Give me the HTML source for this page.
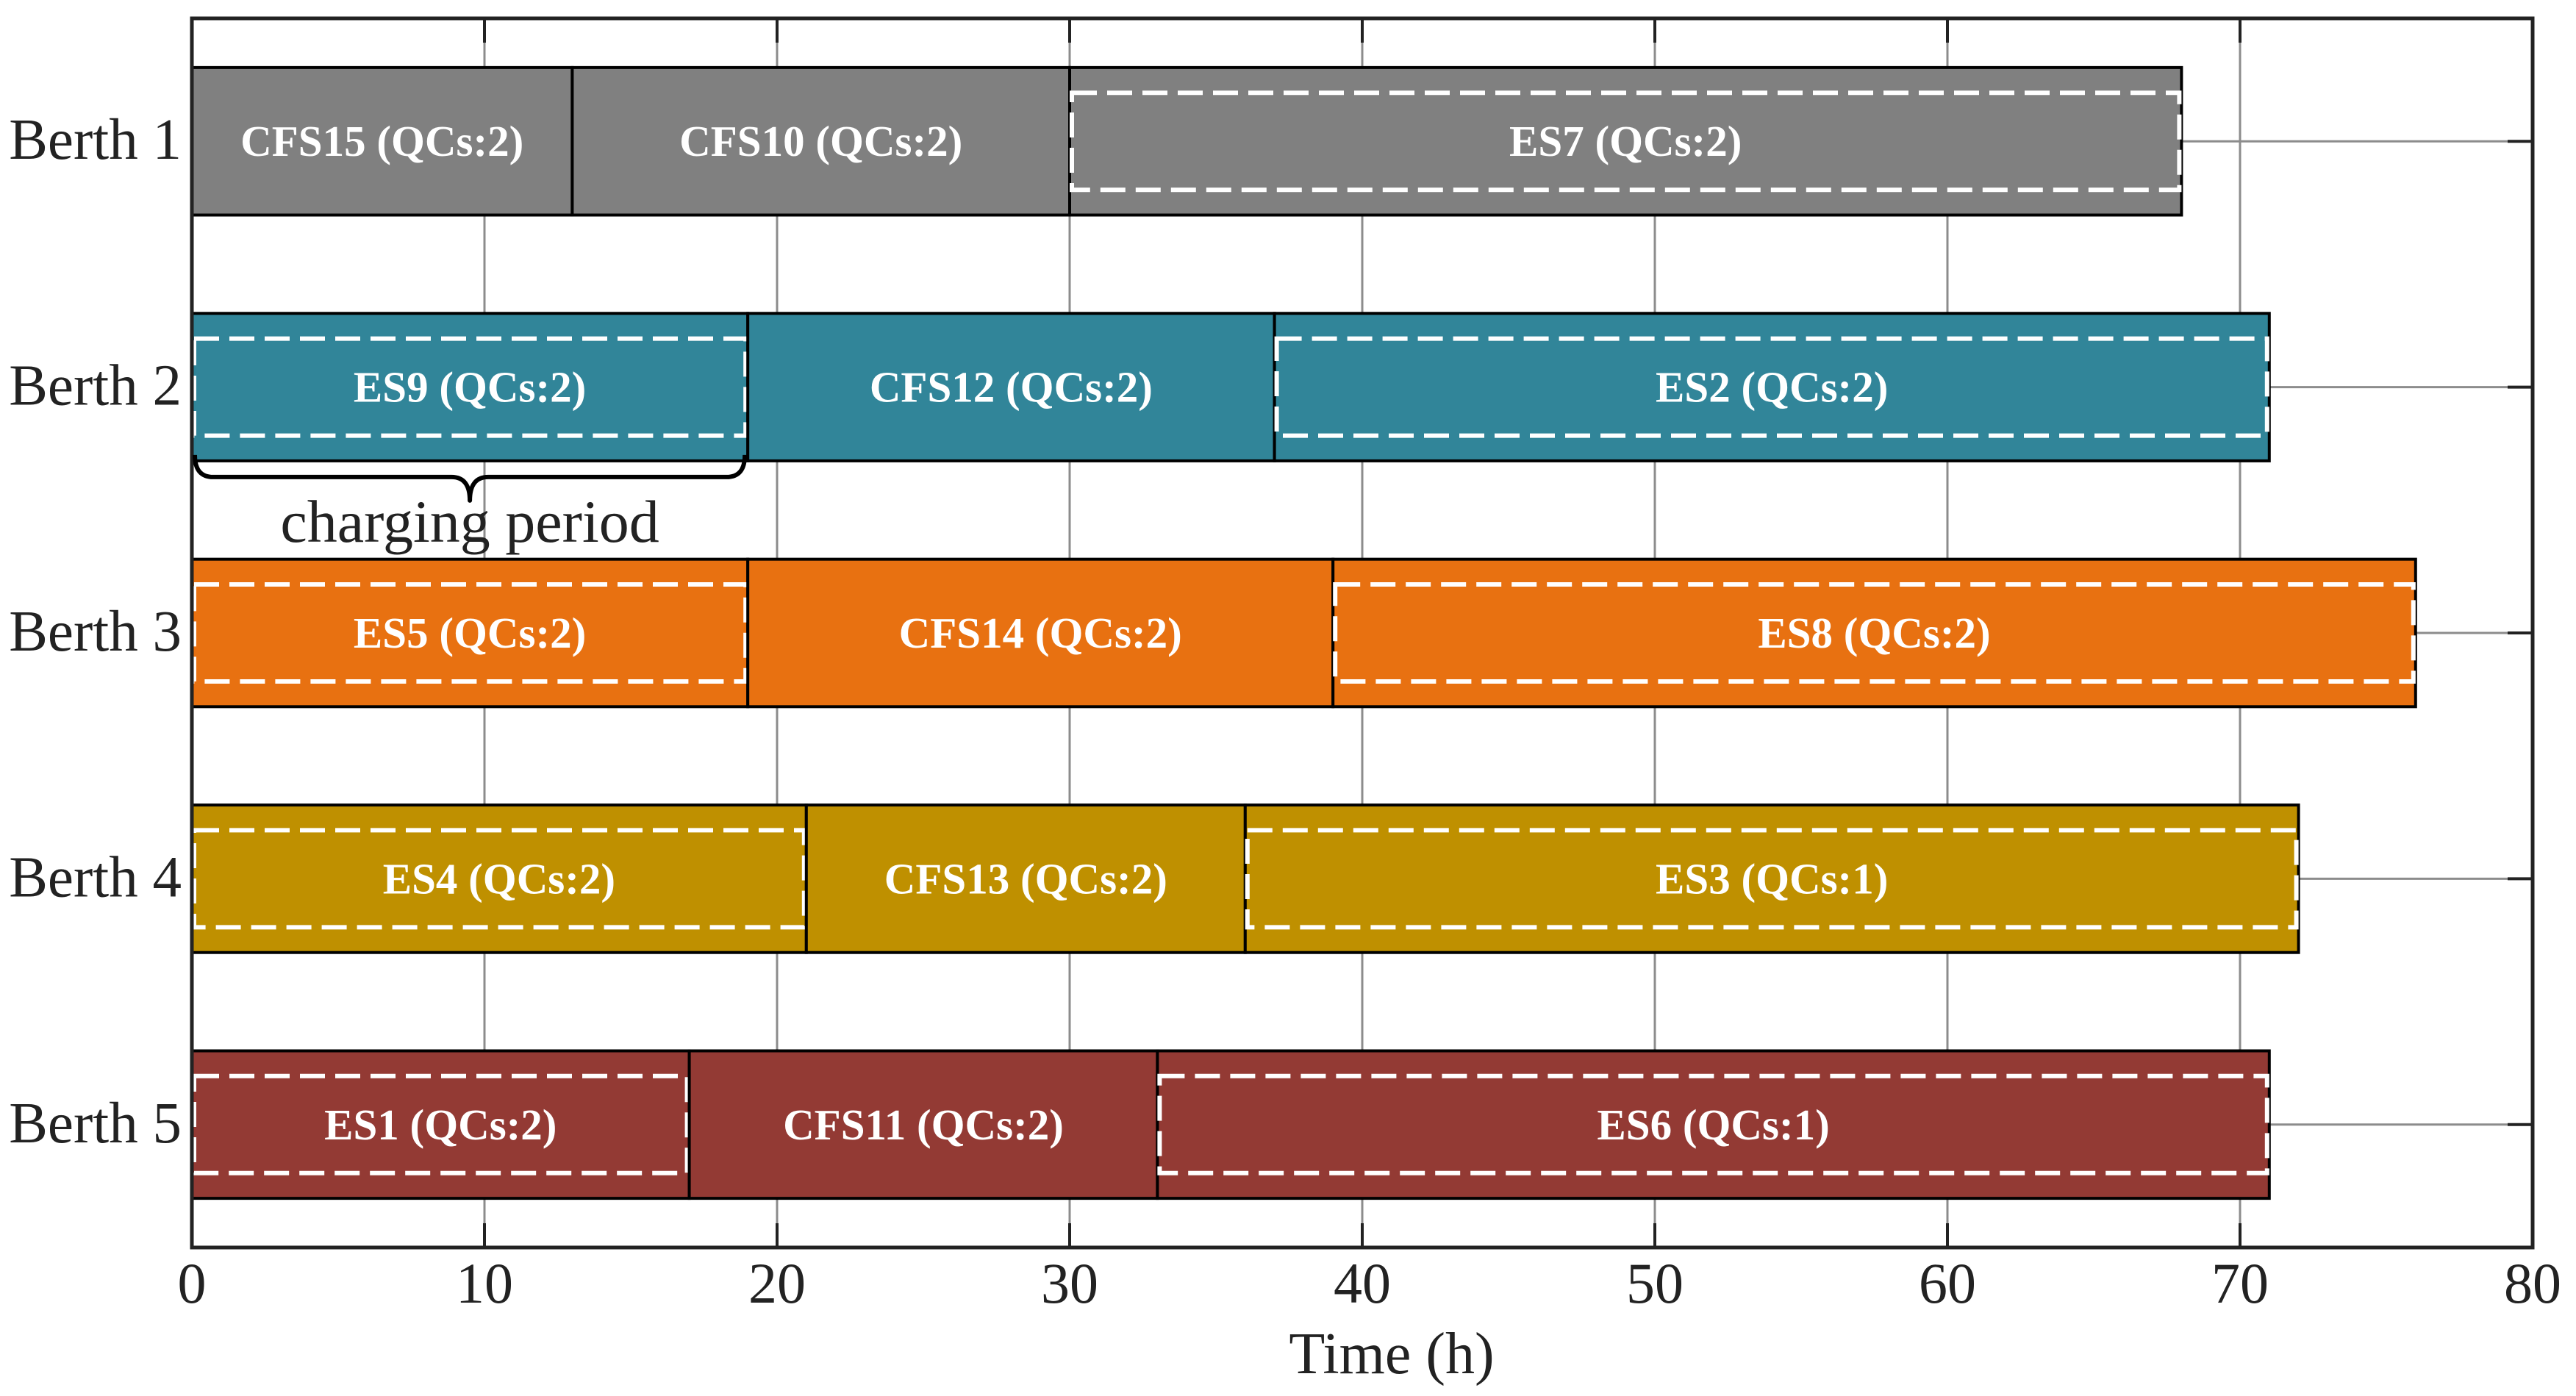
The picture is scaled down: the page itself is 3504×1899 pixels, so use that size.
<!DOCTYPE html>
<html><head><meta charset="utf-8"><style>
html,body{margin:0;padding:0;background:#fff}
svg{display:block}
text{font-family:"Liberation Serif",serif}
</style></head><body>
<svg id="chart" width="3504" height="1899" viewBox="0 0 3504 1899" xmlns="http://www.w3.org/2000/svg">
<g id="grid"></g>
<g id="bars"></g>
<g id="axes"></g>
<g>
<path id="brace" fill="none" stroke="#000" stroke-width="6" stroke-linejoin="round"/>
<text id="braceLabel" font-size="82" text-anchor="middle" fill="#222">charging period</text>
</g>
<text x="1893" y="1868" font-size="80" text-anchor="middle" fill="#222">Time (h)</text>
</svg>
<script>
const berths = ["Berth 1","Berth 2","Berth 3","Berth 4","Berth 5"];
const berthColors = ["#808080","#318599","#E87111","#BF9000","#933A34"];
const taskNames = [
 ["CFS15","CFS10","ES7"],
 ["ES9","CFS12","ES2"],
 ["ES5","CFS14","ES8"],
 ["ES4","CFS13","ES3"],
 ["ES1","CFS11","ES6"]];
const taskStarts = [[0,13,30],[0,19,37],[0,19,39],[0,21,36],[0,17,33]];
const taskEnds = [[13,30,68],[19,37,71],[19,39,76],[21,36,72],[17,33,71]];
const taskQCs = [[2,2,2],[2,2,2],[2,2,2],[2,2,1],[2,2,1]];
const xTicks = [0,10,20,30,40,50,60,70,80];
const chargeStart = 0, chargeEnd = 19, chargeBerth = 1;

const L=261,R=3445,T=25,B=1697;
const X=v=>L+(v-0)/(80-0)*(R-L);
const Y=i=>T+(i+0.5)/5*(B-T);
const NS="http://www.w3.org/2000/svg";
function mk(tag,attrs,parent){const e=document.createElementNS(NS,tag);for(const k in attrs)e.setAttribute(k,attrs[k]);parent.appendChild(e);return e;}
const grid=document.getElementById('grid'),bars=document.getElementById('bars'),axes=document.getElementById('axes');
const step=(B-T)/5, half=step*0.3, dh=66;

xTicks.forEach(t=>{
 const g=mk('line',{x1:X(t),x2:X(t),y1:T,y2:B,stroke:'#8c8c8c','stroke-width':3},grid);
 
 
});
berths.forEach((b,i)=>{
 const g=mk('line',{x1:L,x2:R,y1:Y(i),y2:Y(i),stroke:'#8c8c8c','stroke-width':3},grid);
 
 
});

berths.forEach((b,i)=>{
 const yc=Y(i);
 taskNames[i].forEach((n,j)=>{
  const x0=X(taskStarts[i][j]),x1=X(taskEnds[i][j]);
  const r=mk('rect',{x:x0,y:yc-half,width:x1-x0,height:2*half,fill:berthColors[i],stroke:'#000','stroke-width':4},bars);
  
  
  if(n.startsWith('ES')){
   const d=mk('rect',{x:x0+3,y:yc-dh,width:x1-x0-6,height:2*dh,fill:'none',stroke:'#fff','stroke-width':6,'stroke-dasharray':'34 14'},bars);
   
   
  }
  const t=mk('text',{x:(x0+x1)/2,y:yc+20,'font-size':59,'font-weight':'bold',fill:'#fff','text-anchor':'middle'},bars);
  t.textContent=n+' (QCs:'+taskQCs[i][j]+')';
  
  
 });
 const lb=mk('text',{x:247,y:yc+24,'font-size':79,'text-anchor':'end',fill:'#222'},axes);
 lb.textContent=b;
 
 
 const tk=mk('line',{x1:R-34,x2:R,y1:yc,y2:yc,stroke:'#222','stroke-width':4},axes);
 
 
});

const frame=mk('rect',{x:L,y:T,width:R-L,height:B-T,fill:'none',stroke:'#222','stroke-width':5},axes);


xTicks.forEach(t=>{
 const a=mk('line',{x1:X(t),x2:X(t),y1:B-33,y2:B,stroke:'#222','stroke-width':4},axes);
 
 
 const c=mk('line',{x1:X(t),x2:X(t),y1:T,y2:T+33,stroke:'#222','stroke-width':4},axes);
 
 
 const l=mk('text',{x:X(t),y:1772,'font-size':78,'text-anchor':'middle',fill:'#222'},axes);
 l.textContent=t;
 
 
});

// brace
const bx0=X(chargeStart)+4,bx1=X(chargeEnd)-4,by=Y(chargeBerth)+half-8,bm=(bx0+bx1)/2;
document.getElementById('brace').setAttribute('d',
 `M${bx0},${by} Q${bx0},${by+30} ${bx0+25},${by+30} L${bm-25},${by+30} Q${bm},${by+30} ${bm},${by+62} Q${bm},${by+30} ${bm+25},${by+30} L${bx1-25},${by+30} Q${bx1},${by+30} ${bx1},${by}`);
const bl=document.getElementById('braceLabel');
bl.setAttribute('x',bm);bl.setAttribute('y',by+118);
</script>
</body></html>
